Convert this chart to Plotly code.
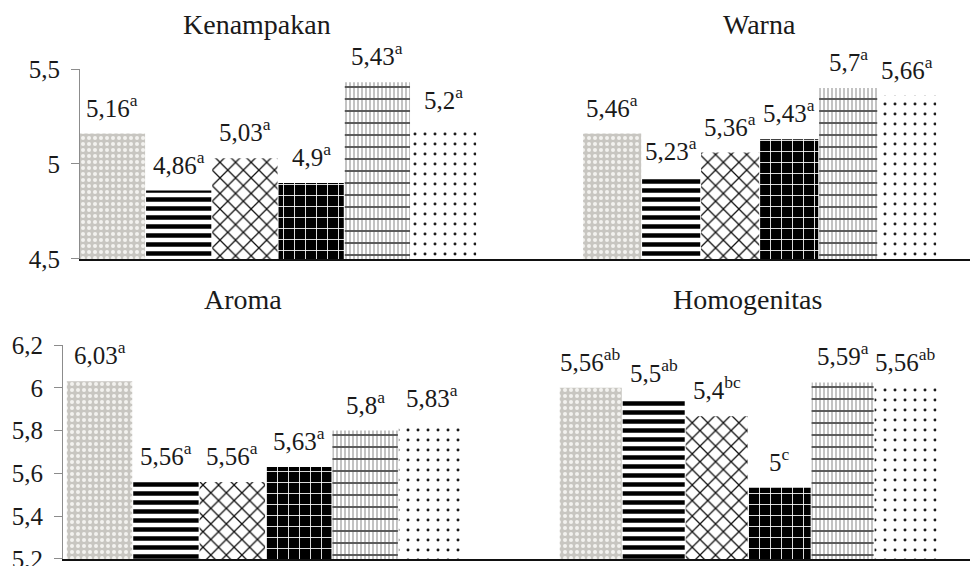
import plotly.graph_objects as go

# ---------------- data ----------------
treatments = ["P1", "P2", "P3", "P4", "P5", "P6"]

kenampakan = [5.16, 4.86, 5.03, 4.9, 5.43, 5.2]
kenampakan_sig = ["a", "a", "a", "a", "a", "a"]

warna = [5.46, 5.23, 5.36, 5.43, 5.7, 5.66]
warna_sig = ["a", "a", "a", "a", "a", "a"]

aroma = [6.03, 5.56, 5.56, 5.63, 5.8, 5.83]
aroma_sig = ["a", "a", "a", "a", "a", "a"]

homogenitas = [5.56, 5.5, 5.4, 5.0, 5.59, 5.56]
homogenitas_sig = ["ab", "ab", "bc", "c", "a", "ab"]

titles = ["Kenampakan", "Warna", "Aroma", "Homogenitas"]

# ---------------- styles ----------------
OFF = 8                 # default page margin of the html body
W, H = 978 - OFF, 566 - OFF
FONT = "'Liberation Serif', 'Times New Roman', Times, serif"
TXT = "#1a1a1a"

pat_shape = [".", "-", "x", "+", "|", "."]
pat_fg = ["#f3f2ef", "#000000", "#111111", "#ffffff", "#b4b4b4", "#1a1a1a"]
pat_bg = ["#c8c6c1", "#ffffff", "#ffffff", "#000000", "#ffffff", "#ffffff"]
pat_size = [6, 9, 11, 11, 4, 10]
pat_sol = [0.35, 0.5, 0.22, 0.15, 0.4, 0.07]


def px_x(x):
    return (x - OFF) / W


def px_y(y):
    return 1 - (y - OFF) / H


panels = [
    dict(vals=kenampakan, sig=kenampakan_sig, title=titles[0],
         xd=(80, 490), yd=(69, 259), xr=[-0.49, 5.70], yr=[4.4995, 5.5],
         showy=True, tick0=4.5, dtick=0.5, tpos=(257, 24)),
    dict(vals=warna, sig=warna_sig, title=titles[1],
         xd=(490, 978), yd=(69, 259), xr=[-2.07, 6.20], yr=[4.8, 5.8],
         showy=False, tick0=4.8, dtick=0.5, tpos=(759, 24)),
    dict(vals=aroma, sig=aroma_sig, title=titles[2],
         xd=(63, 490), yd=(345, 559), xr=[-0.55, 5.88], yr=[5.1995, 6.2],
         showy=True, tick0=5.2, dtick=0.2, tpos=(243, 299)),
    dict(vals=homogenitas, sig=homogenitas_sig, title=titles[3],
         xd=(490, 978), yd=(345, 559), xr=[-1.6, 6.15], yr=[4.6, 5.8],
         showy=False, tick0=4.6, dtick=0.2, tpos=(747, 299)),
]

fig = go.Figure()
annotations = []
layout_axes = {}

for i, p in enumerate(panels, start=1):
    xa = "x" if i == 1 else f"x{i}"
    ya = "y" if i == 1 else f"y{i}"
    fig.add_trace(go.Bar(
        x=treatments, y=p["vals"], xaxis=xa, yaxis=ya,
        marker=dict(
            color="white",
            line=dict(width=0),
            pattern=dict(shape=pat_shape, fgcolor=pat_fg, bgcolor=pat_bg,
                         size=pat_size, solidity=pat_sol, fillmode="replace"),
        ),
        showlegend=False, hoverinfo="skip",
    ))
    # extra horizontal rules on the 5th pattern (grid-like fill)
    overlay_vals = [v if k == 4 else None for k, v in enumerate(p["vals"])]
    fig.add_trace(go.Bar(
        x=treatments, y=overlay_vals, xaxis=xa, yaxis=ya,
        marker=dict(
            color="rgba(0,0,0,0)", line=dict(width=0),
            pattern=dict(shape="-", fgcolor="#555555", bgcolor="rgba(0,0,0,0)",
                         size=12, solidity=0.16, fillmode="replace"),
        ),
        showlegend=False, hoverinfo="skip",
    ))

    x0, x1 = p["xd"]
    ytop, ybot = p["yd"]
    xkey = "xaxis" if i == 1 else f"xaxis{i}"
    ykey = "yaxis" if i == 1 else f"yaxis{i}"
    layout_axes[xkey] = dict(
        domain=[max(0, px_x(x0)), min(1, px_x(x1))], anchor=ya, type="category",
        range=p["xr"], showticklabels=False, ticks="", showgrid=False,
        zeroline=False, showline=True, linecolor="#111111", linewidth=2,
        fixedrange=True, automargin=False,
    )
    yconf = dict(
        domain=[max(0, px_y(ybot)), min(1, px_y(ytop))], anchor=xa, range=p["yr"],
        showgrid=False, zeroline=False, fixedrange=True, automargin=False,
    )
    if p["showy"]:
        yconf.update(
            showline=True, linecolor="#8c8c8c", linewidth=1,
            ticks="outside", ticklen=8, tickcolor="#8c8c8c", tickwidth=1,
            tick0=p["tick0"], dtick=p["dtick"],
            tickfont=dict(family=FONT, size=25, color=TXT),
            ticklabelstandoff=6, ticklabeloverflow="allow",
        )
    else:
        yconf.update(visible=False)
    layout_axes[ykey] = yconf

    # value labels
    for cat, v, s in zip(treatments, p["vals"], p["sig"]):
        label = f"{v:g}".replace(".", ",")
        annotations.append(dict(
            x=cat, y=v, xref=xa, yref=ya, text=f"{label}<sup>{s}</sup>",
            showarrow=False, yanchor="bottom", xanchor="center", yshift=10,
            font=dict(family=FONT, size=25, color=TXT),
        ))
    # panel title
    tx, ty = p["tpos"]
    annotations.append(dict(
        x=px_x(tx), y=px_y(ty), xref="paper", yref="paper", text=p["title"],
        showarrow=False, xanchor="center", yanchor="middle",
        font=dict(family=FONT, size=28, color=TXT),
    ))

fig.update_layout(
    width=W, height=H, autosize=False,
    margin=dict(l=0, r=0, t=0, b=0, pad=0, autoexpand=False),
    paper_bgcolor="white", plot_bgcolor="white",
    barmode="overlay", bargap=0.015,
    separators=", ",
    annotations=annotations,
    font=dict(family=FONT, color=TXT),
    **layout_axes,
)

fig.write_html("out.html")
